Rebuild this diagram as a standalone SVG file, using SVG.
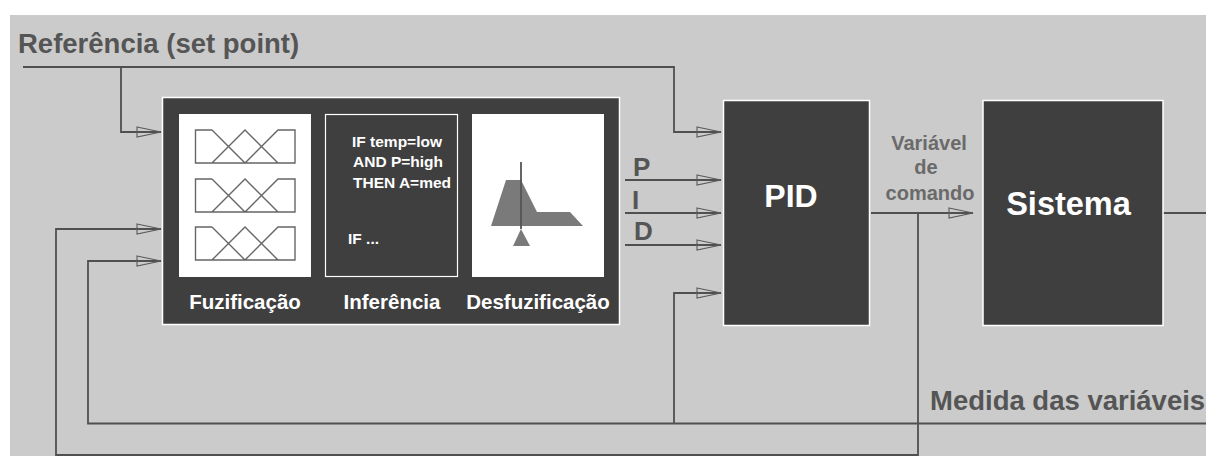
<svg xmlns="http://www.w3.org/2000/svg" width="1206" height="456" viewBox="0 0 1206 456">
<style>
text{font-family:"Liberation Sans",Arial,sans-serif;font-weight:bold}
.box{fill:#3f3f3f;stroke:#fff;stroke-width:1.5}
.w{fill:#fff}
.l{fill:#fff;font-size:20.500px;text-anchor:middle}
.r{fill:#fff;font-size:15.500px}
.g{fill:#555}
.big{font-size:27.500px}
.pid{font-size:26px}
.v{font-size:20px;text-anchor:middle;fill:#6a6a6a}
.c{fill:none;stroke:#505050;stroke-width:1.8}
.h{fill:none;stroke:#5a5a5a;stroke-width:1.1}
.m{fill:none;stroke:#666;stroke-width:1.4}
</style>
<defs>
<marker id="a" markerUnits="userSpaceOnUse" markerWidth="26" markerHeight="14" refX="25" refY="6" orient="auto" overflow="visible"><path class="h" d="M1 1L25 6L1 11Z"/></marker>
<g id="mf"><path class="m" d="M212 130H195.500V163H295V130H278L245 163L212 130M212 163L245 130L278 163"/></g>
</defs>
<rect width="1206" height="456" fill="#fff"/>
<rect x="10" y="15" width="1196" height="441" fill="#cbcbcb"/>
<g id="connectors">
<path class="c" d="M23 67H674V132H721" marker-end="url(#a)"/>
<path class="c" d="M121 67V132H161" marker-end="url(#a)"/>
<path class="c" d="M1206 423.500H88V261H161" marker-end="url(#a)"/>
<path class="c" d="M674 423.500V293H721" marker-end="url(#a)"/>
<path class="c" d="M918 213V455H56V229H161" marker-end="url(#a)"/>
<path class="c" d="M625 180H721" marker-end="url(#a)"/>
<path class="c" d="M625 213H721" marker-end="url(#a)"/>
<path class="c" d="M625 245H721" marker-end="url(#a)"/>
<path class="c" d="M871 213H973" marker-end="url(#a)"/>
<path class="c" d="M1163 213H1206"/>
</g>
<g id="fuzzy">
<rect class="box" x="162.500" y="97.500" width="457" height="227"/>
<g id="fuzificacao">
<rect class="w" x="179" y="114" width="132" height="163"/>
<use href="#mf"/>
<use href="#mf" y="49"/>
<use href="#mf" y="97"/>
<text class="l" x="245" y="309">Fuzificação</text>
</g>
<g id="inferencia">
<rect fill="#3f3f3f" stroke="#fff" stroke-width="1.2" x="325.500" y="114.500" width="132" height="162"/>
<text class="r" x="352" y="147">IF temp=low</text>
<text class="r" x="353" y="167">AND P=high</text>
<text class="r" x="353" y="188">THEN A=med</text>
<text class="r" x="348" y="244">IF ...</text>
<text class="l" x="392" y="309">Inferência</text>
</g>
<g id="desfuzificacao">
<rect class="w" x="472" y="114" width="132" height="163"/>
<path fill="#7a7a7a" d="M491 226L506 180H521L537 212H570L583 226Z"/>
<path fill="#7a7a7a" d="M521 229L530 246H513Z"/>
<path d="M521 162V229" stroke="#555" stroke-width="1.8"/>
<text class="l" x="538" y="309">Desfuzificação</text>
</g>
</g>
<g id="pid">
<rect class="box" x="723.500" y="100.500" width="146" height="225"/>
<text fill="#fff" font-size="32" x="791" y="207" text-anchor="middle">PID</text>
</g>
<g id="sistema">
<rect class="box" x="983" y="100.500" width="180" height="225"/>
<text fill="#fff" font-size="32.500" x="1068.500" y="215" text-anchor="middle">Sistema</text>
</g>
<g id="labels">
<text class="g big" x="18" y="53">Referência (set point)</text>
<text class="g pid" x="633" y="176">P</text>
<text class="g pid" x="632" y="209">I</text>
<text class="g pid" x="634" y="240">D</text>
<text class="v" x="929" y="150">Variável</text>
<text class="v" x="926" y="174">de</text>
<text class="v" x="930" y="200">comando</text>
<text class="g big" x="930" y="410">Medida das variáveis</text>
</g>
</svg>
